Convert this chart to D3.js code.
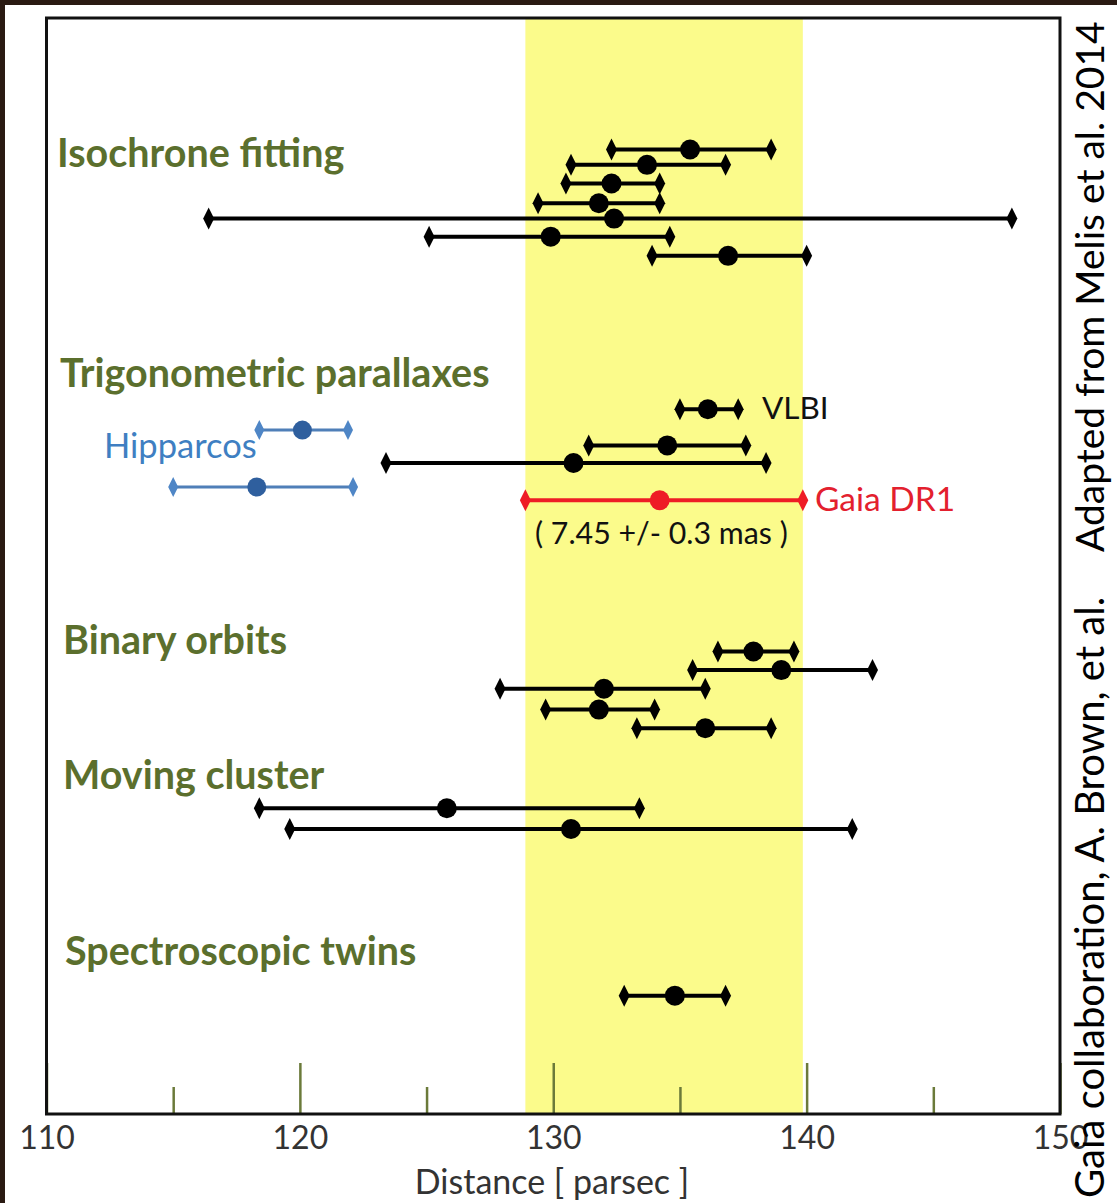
<!DOCTYPE html>
<html>
<head>
<meta charset="utf-8">
<script src="https://cdn.jsdelivr.net/npm/d3@7"></script>
<style>
  body { margin: 0; background: #2a1a12; }
  svg { display: block; }
</style>
</head>
<body>
<div id="chart"></div>
<script>
// distance axis
const xDomain = [110, 150];
const majorTicks = [110, 120, 130, 140, 150];
const minorTicks = [115, 125, 135, 145];
// Gaia DR1 range (7.45 +/- 0.3 mas)
const gaiaBand = [128.9, 139.85];

// each row: [low, value, high] in parsec
const isochroneFitting = [
  [132.3, 135.4, 138.6],
  [130.7, 133.7, 136.8],
  [130.5, 132.3, 134.2],
  [129.4, 131.8, 134.2],
  [116.4, 132.4, 148.1],
  [125.1, 129.9, 134.6],
  [133.9, 136.9, 140.0]
];
const isochroneLevels = [12.0, 13.4, 15.1, 16.9, 18.3, 19.95, 21.7];

const trigParallaxes = [
  [135.0, 136.1, 137.3],   // VLBI
  [131.4, 134.5, 137.6],
  [123.4, 130.8, 138.4]
];
const trigLevels = [35.7, 39.0, 40.6];

const hipparcos = [
  [118.4, 120.1, 121.9],
  [115.0, 118.3, 122.1]
];
const hipparcosLevels = [37.6, 42.8];

const gaiaDR1 = [[128.9, 134.2, 139.85]];
const gaiaLevels = [44.0];

const binaryOrbits = [
  [136.5, 137.9, 139.5],
  [135.5, 139.0, 142.6],
  [127.9, 132.0, 136.0],
  [129.7, 131.8, 134.0],
  [133.3, 136.0, 138.6]
];
const binaryLevels = [57.8, 59.5, 61.2, 63.1, 64.8];

const movingCluster = [
  [118.4, 125.8, 133.4],
  [119.6, 130.7, 141.8]
];
const movingLevels = [72.1, 74.0];

const spectroscopicTwins = [[132.8, 134.8, 136.8]];
const twinsLevels = [89.2];

const W = 1117, H = 1203;
const plotLeft = 46.5, plotRight = 1060, plotTop = 18, plotBottom = 1114;
const olive = "#5b6f2d";

const svg = d3.select("#chart").append("svg")
  .attr("width", W).attr("height", H)
  .style("font-family", "Lato, 'Open Sans', sans-serif");

// white page inside a dark border
svg.append("rect").attr("width", W).attr("height", H).attr("fill", "#2a1a12");
svg.append("rect").attr("x", 5).attr("y", 5).attr("width", W - 5).attr("height", H - 5).attr("fill", "#fff");

const x = d3.scaleLinear().domain(xDomain).range([plotLeft, plotRight]);
const y = d3.scaleLinear().domain([0, 100]).range([plotTop, plotBottom]);

// yellow Gaia band
svg.append("rect")
  .attr("x", x(gaiaBand[0]))
  .attr("y", plotTop)
  .attr("width", x(gaiaBand[1]) - x(gaiaBand[0]))
  .attr("height", plotBottom - plotTop)
  .attr("fill", "#fbfb8b");

// ticks
const minorAxis = svg.append("g")
  .attr("transform", `translate(0,${plotBottom})`)
  .call(d3.axisBottom(x).tickValues(minorTicks).tickSize(-27).tickFormat(""));
const majorAxis = svg.append("g")
  .attr("transform", `translate(0,${plotBottom})`)
  .call(d3.axisBottom(x).tickValues(majorTicks).tickSizeInner(-51).tickSizeOuter(0).tickPadding(12).tickFormat(d3.format("d")));
[minorAxis, majorAxis].forEach(g => {
  g.select(".domain").remove();
  g.selectAll(".tick line").attr("stroke", "#6b7a3a").attr("stroke-width", 2.5);
});
majorAxis.selectAll(".tick text")
  .attr("fill", "#333")
  .style("font-size", "32px")
  .style("font-family", "Lato, sans-serif");

// frame
svg.append("rect")
  .attr("x", plotLeft).attr("y", plotTop)
  .attr("width", plotRight - plotLeft).attr("height", plotBottom - plotTop)
  .attr("fill", "none").attr("stroke", "#111").attr("stroke-width", 3);

function diamond(cx, cy, w, h) {
  return `M${cx},${cy - h}L${cx + w},${cy}L${cx},${cy + h}L${cx - w},${cy}Z`;
}

function drawRows(rows, levels, style) {
  const g = svg.append("g");
  rows.forEach((r, i) => {
    const cy = y(levels[i]);
    g.append("line")
      .attr("x1", x(r[0])).attr("x2", x(r[2]))
      .attr("y1", cy).attr("y2", cy)
      .attr("stroke", style.line).attr("stroke-width", style.width);
    [r[0], r[2]].forEach(v => {
      g.append("path")
        .attr("d", diamond(x(v), cy, style.dw, style.dh))
        .attr("fill", style.end);
    });
    g.append("circle")
      .attr("cx", x(r[1])).attr("cy", cy).attr("r", style.r)
      .attr("fill", style.dot);
  });
}

const blackStyle = { line: "#000", width: 4, end: "#000", dot: "#000", dw: 5.5, dh: 11, r: 10 };
const blueStyle = { line: "#4f7fb8", width: 3, end: "#4f86c6", dot: "#2f5f9e", dw: 5, dh: 10, r: 9.5 };
const redStyle = { line: "#ee1c25", width: 4, end: "#ee1c25", dot: "#ee1c25", dw: 5.5, dh: 11, r: 10 };

drawRows(isochroneFitting, isochroneLevels, blackStyle);
drawRows(trigParallaxes, trigLevels, blackStyle);
drawRows(hipparcos, hipparcosLevels, blueStyle);
drawRows(gaiaDR1, gaiaLevels, redStyle);
drawRows(binaryOrbits, binaryLevels, blackStyle);
drawRows(movingCluster, movingLevels, blackStyle);
drawRows(spectroscopicTwins, twinsLevels, blackStyle);

// group labels
const groupLabels = [
  { text: "Isochrone fitting", x: 57, y: 167 },
  { text: "Trigonometric parallaxes", x: 60, y: 387 },
  { text: "Binary orbits", x: 63, y: 654 },
  { text: "Moving cluster", x: 63, y: 789 },
  { text: "Spectroscopic twins", x: 65, y: 965 }
];
svg.selectAll(".group-label")
  .data(groupLabels)
  .enter().append("text")
  .attr("class", "group-label")
  .attr("x", d => d.x).attr("y", d => d.y)
  .attr("fill", olive)
  .style("font-size", "39.5px")
  .style("font-weight", "bold")
  .text(d => d.text);

// annotations
svg.append("text").attr("x", 104).attr("y", 458)
  .attr("fill", "#3f7fc2").style("font-size", "34.5px").text("Hipparcos");
svg.append("text").attr("x", 762).attr("y", 419)
  .attr("fill", "#111").style("font-size", "31.5px").text("VLBI");
svg.append("text").attr("x", 815).attr("y", 511)
  .attr("fill", "#e3202e").style("font-size", "33.5px").text("Gaia DR1");
svg.append("text").attr("x", 535).attr("y", 544)
  .attr("fill", "#111").style("font-size", "30.3px").text("( 7.45 +/- 0.3 mas )");

// axis title
svg.append("text")
  .attr("x", 552).attr("y", 1194)
  .attr("text-anchor", "middle")
  .attr("fill", "#333")
  .style("font-size", "34px")
  .text("Distance [ parsec ]");

// credits, rotated along the right edge
svg.append("text")
  .attr("transform", "translate(1104,1198) rotate(-90)")
  .attr("fill", "#000")
  .style("font-size", "40px")
  .text("Gaia collaboration, A. Brown, et al.");
svg.append("text")
  .attr("transform", "translate(1104,552) rotate(-90)")
  .attr("fill", "#000")
  .style("font-size", "39px")
  .text("Adapted from Melis et al. 2014");
</script>
</body>
</html>
